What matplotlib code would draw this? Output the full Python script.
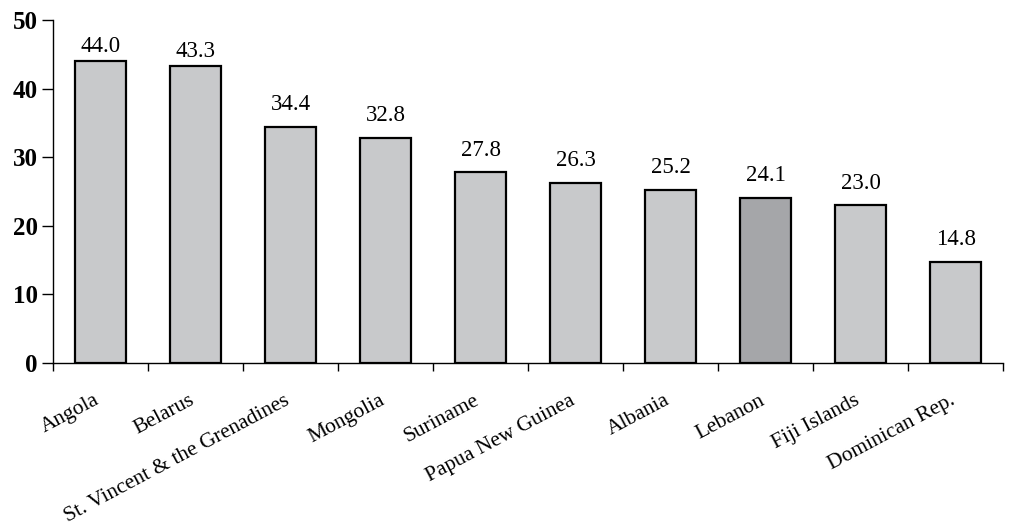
import numpy as np
import matplotlib.pyplot as plt

countries = ["Angola", "Belarus", "St. Vincent & the Grenadines", "Mongolia",
             "Suriname", "Papua New Guinea", "Albania", "Lebanon",
             "Fiji Islands", "Dominican Rep."]
values = [44.0, 43.3, 34.4, 32.8, 27.8, 26.3, 25.2, 24.1, 23.0, 14.8]
highlight = "Lebanon"

plt.rcParams['font.family'] = ['Liberation Serif', 'DejaVu Serif']

fig = plt.figure(figsize=(10.12, 5.24), dpi=100)
ax = fig.add_axes([0.0524, 0.307, 0.939, 0.655])

x = np.arange(len(countries))
colors = ['#a5a6a9' if c == highlight else '#c8c9cb' for c in countries]
ax.bar(x, values, width=0.54, color=colors, edgecolor='black', linewidth=1.6)

# value labels (the two tallest sit closer to their bars)
for xi, v in zip(x, values):
    off = 6.5 if v > 40 else 12
    ax.annotate(f"{v:.1f}", (xi, v), xytext=(0, off), textcoords='offset points',
                ha='center', va='baseline', fontsize=16.5)

ax.set_xlim(-0.5, len(countries) - 0.5)
ax.set_ylim(0, 50)
ax.set_yticks(range(0, 51, 10))
ax.set_yticklabels([str(t) for t in range(0, 51, 10)], fontsize=18, fontweight='bold')

ax.set_xticks(np.arange(len(countries) + 1) - 0.5)
ax.set_xticklabels([])
ax.set_xticks(x, minor=True)
ax.set_xticklabels(countries, minor=True, rotation=28, ha='right', va='baseline',
                   rotation_mode='anchor', fontsize=15.5)
ax.tick_params(axis='x', which='minor', length=0, pad=29)
ax.tick_params(axis='x', which='major', length=6, width=1, direction='out')
ax.tick_params(axis='y', length=8, width=1, direction='out', pad=3)

ax.spines['top'].set_visible(False)
ax.spines['right'].set_visible(False)
ax.spines['left'].set_linewidth(1)
ax.spines['bottom'].set_linewidth(1)

fig.savefig('out.png', dpi=100)
